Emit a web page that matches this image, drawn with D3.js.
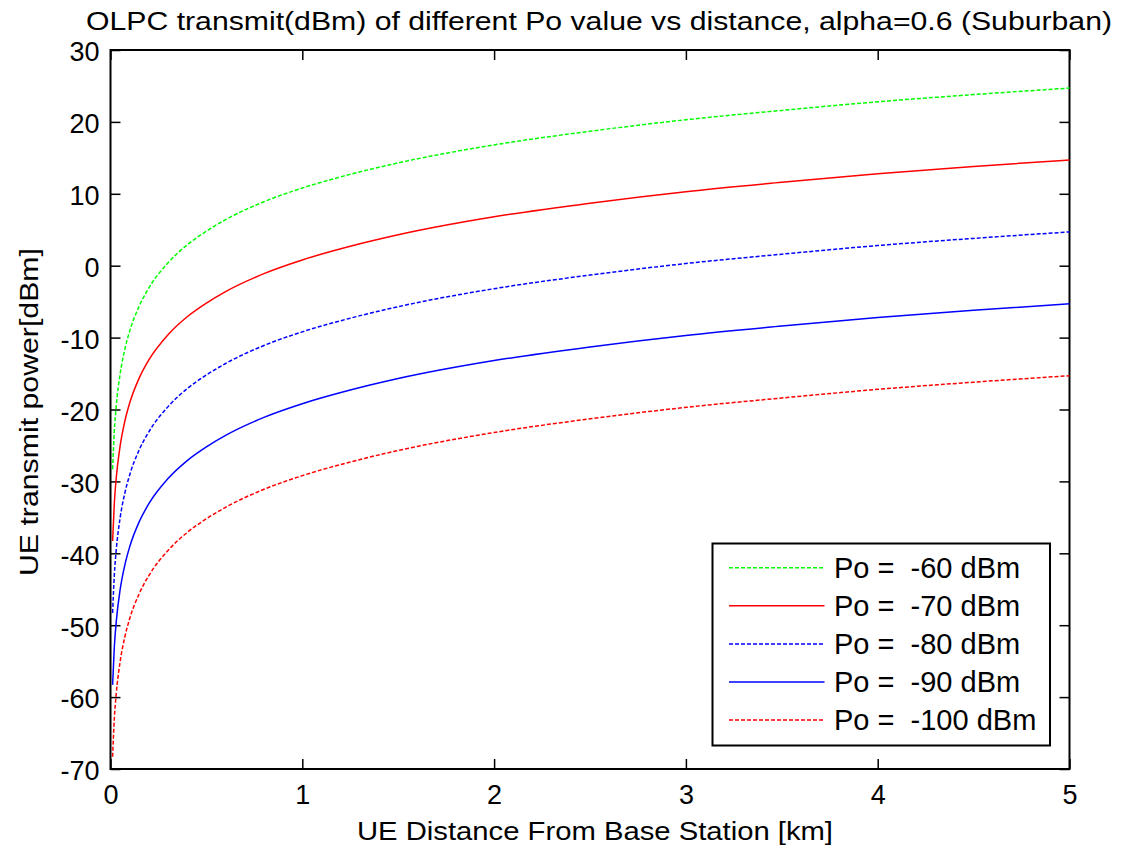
<!DOCTYPE html>
<html>
<head>
<meta charset="utf-8">
<script src="https://cdn.jsdelivr.net/npm/d3@7"></script>
<style>
  body { margin: 0; background: #fff; }
  text { font-family: "Liberation Sans", Arial, sans-serif; fill: #000; }
</style>
</head>
<body>
<div id="plot"></div>
<script>
//Distance points (km)
var distance = [0.011, 0.02, 0.03, 0.05, 0.075, 0.1, 0.15, 0.2, 0.3, 0.4, 0.5, 0.6, 0.8, 1.0, 1.25, 1.5, 2, 2.5, 3, 3.5, 4, 4.5, 5];

//UE transmit power (dBm) per Po value
var po60  = [-28.3, -23.0, -19.5, -15.1, -11.6, -9.1, -5.6, -3.1, 0.4, 2.9, 4.8, 6.4, 8.9, 10.8, 12.7, 14.3, 16.8, 18.7, 20.3, 21.6, 22.8, 23.8, 24.7];
var po70  = [-38.3, -33.0, -29.5, -25.1, -21.6, -19.1, -15.6, -13.1, -9.6, -7.1, -5.2, -3.6, -1.1, 0.8, 2.7, 4.3, 6.8, 8.7, 10.3, 11.6, 12.8, 13.8, 14.7];
var po80  = [-48.3, -43.0, -39.5, -35.1, -31.6, -29.1, -25.6, -23.1, -19.6, -17.1, -15.2, -13.6, -11.1, -9.2, -7.3, -5.7, -3.2, -1.3, 0.3, 1.6, 2.8, 3.8, 4.7];
var po90  = [-58.3, -53.0, -49.5, -45.1, -41.6, -39.1, -35.6, -33.1, -29.6, -27.1, -25.2, -23.6, -21.1, -19.2, -17.3, -15.7, -13.2, -11.3, -9.7, -8.4, -7.2, -6.2, -5.3];
var po100 = [-68.3, -63.0, -59.5, -55.1, -51.6, -49.1, -45.6, -43.1, -39.6, -37.1, -35.2, -33.6, -31.1, -29.2, -27.3, -25.7, -23.2, -21.3, -19.7, -18.4, -17.2, -16.2, -15.3];

var seriesNames = ["Po =  -60 dBm", "Po =  -70 dBm", "Po =  -80 dBm", "Po =  -90 dBm", "Po =  -100 dBm"];
var seriesValues = [po60, po70, po80, po90, po100];
var seriesColors = ["#00ff00", "#ff0000", "#0000ff", "#0000ff", "#ff0000"];
var seriesDash = ["4,2", null, "4,2", null, "4,2"];

var xTicks = [0, 1, 2, 3, 4, 5];
var yTicks = [-70, -60, -50, -40, -30, -20, -10, 0, 10, 20, 30];

var W = 1128, H = 853;
var margin = {top: 50, right: 58.5, bottom: 84, left: 110.5};
var width = W - margin.left - margin.right;
var height = H - margin.top - margin.bottom;

var svg = d3.select("#plot").append("svg")
    .attr("width", W)
    .attr("height", H);

var g = svg.append("g")
    .attr("transform", "translate(" + margin.left + "," + margin.top + ")");

var xScale = d3.scaleLinear().domain([0, 5]).range([0, width]);
var yScale = d3.scaleLinear().domain([-70, 30]).range([height, 0]);

//MATLAB style labels: plain integers with a hyphen minus
var fmt = function(d) { return String(d); };

//Axes with inward ticks on all four sides
var tickLen = 10;
g.append("g")
    .attr("transform", "translate(0," + height + ")")
    .call(d3.axisBottom(xScale).tickValues(xTicks).tickFormat(fmt).tickSizeInner(-tickLen).tickSizeOuter(0).tickPadding(15.5));
g.append("g")
    .call(d3.axisTop(xScale).tickValues(xTicks).tickSizeInner(-tickLen).tickSizeOuter(0).tickFormat(""));
g.append("g")
    .attr("class", "yaxis")
    .call(d3.axisLeft(yScale).tickValues(yTicks).tickFormat(fmt).tickSizeInner(-tickLen).tickSizeOuter(0).tickPadding(11));
g.append("g")
    .attr("transform", "translate(" + width + ",0)")
    .call(d3.axisRight(yScale).tickValues(yTicks).tickSizeInner(-tickLen).tickSizeOuter(0).tickFormat(""));

g.selectAll(".domain").remove();
g.selectAll(".tick line").attr("stroke", "#000").attr("stroke-width", 1.5);
g.selectAll(".tick text")
    .attr("fill", "#000")
    .style("font-family", "'Liberation Sans', Arial, sans-serif")
    .style("font-size", "27px");
g.selectAll(".yaxis .tick text").attr("dy", "0.4em");

//Box
g.append("rect")
    .attr("width", width)
    .attr("height", height)
    .attr("fill", "none")
    .attr("stroke", "#000")
    .attr("stroke-width", 2);

//Curves
var line = d3.line()
    .x(function(d) { return xScale(d[0]); })
    .y(function(d) { return yScale(d[1]); })
    .curve(d3.curveMonotoneX);

seriesValues.forEach(function(vals, i) {
  g.append("path")
    .datum(distance.map(function(d, j) { return [d, vals[j]]; }))
    .attr("d", line)
    .attr("fill", "none")
    .attr("stroke", seriesColors[i])
    .attr("stroke-width", 1.5)
    .attr("stroke-dasharray", seriesDash[i]);
});

//Labels
svg.append("text")
    .attr("x", 599).attr("y", 30)
    .attr("text-anchor", "middle")
    .attr("textLength", 1026)
    .attr("lengthAdjust", "spacingAndGlyphs")
    .style("font-size", "26.5px")
    .text("OLPC transmit(dBm) of different Po value vs distance, alpha=0.6 (Suburban)");

svg.append("text")
    .attr("x", 595).attr("y", 840)
    .attr("text-anchor", "middle")
    .attr("textLength", 476)
    .attr("lengthAdjust", "spacingAndGlyphs")
    .style("font-size", "26.5px")
    .text("UE Distance From Base Station [km]");

svg.append("text")
    .attr("transform", "translate(38,412) rotate(-90)")
    .attr("text-anchor", "middle")
    .attr("textLength", 328)
    .attr("lengthAdjust", "spacingAndGlyphs")
    .style("font-size", "26.5px")
    .text("UE transmit power[dBm]");

//Legend
var legend = svg.append("g");
legend.append("rect")
    .attr("x", 712.5).attr("y", 543.5)
    .attr("width", 337.5).attr("height", 202)
    .attr("fill", "#fff")
    .attr("stroke", "#000")
    .attr("stroke-width", 2);

seriesNames.forEach(function(name, i) {
  var y = 567.7 + i * 38.1;
  legend.append("line")
    .attr("x1", 729).attr("x2", 824.5)
    .attr("y1", y).attr("y2", y)
    .attr("stroke", seriesColors[i])
    .attr("stroke-width", 1.5)
    .attr("stroke-dasharray", seriesDash[i]);
  legend.append("text")
    .attr("x", 834).attr("y", y + 10)
    .style("font-size", "29px")
    .style("white-space", "pre")
    .text(name);
});
</script>
</body>
</html>
